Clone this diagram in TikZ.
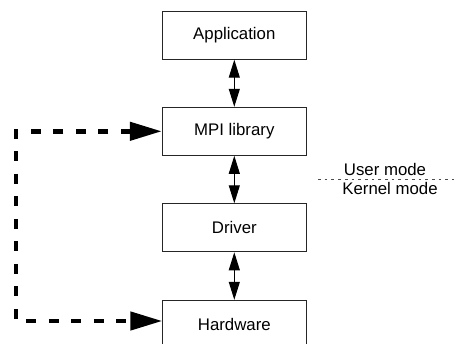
\documentclass[tikz,border=0pt]{standalone}
\usepackage{fontspec}
\setmainfont{Liberation Sans}
\usetikzlibrary{arrows.meta}
\begin{document}
\begin{tikzpicture}[x=1pt,y=-1pt,
  box/.style={draw=black!85, line width=1pt, minimum width=144pt, minimum height=48pt, inner sep=0pt, font=\fontsize{16.8}{20}\selectfont},
  lbl/.style={inner sep=0pt, font=\fontsize{16.8}{20}\selectfont},
  dblarrow/.style={line width=1pt, {Triangle[length=18pt,width=11pt]}-{Triangle[length=18pt,width=11pt]}},
  dasharrow/.style={line width=4.5pt, dash pattern=on 10pt off 12.5pt, miter limit=10, {Triangle[length=32pt,width=18pt]}-{Triangle[length=32pt,width=18pt]}},
  modeline/.style={line width=0.6pt, black!70, dash pattern=on 2.7pt off 4pt}]
\useasboundingbox (0,0) rectangle (454,344);
\node[box] (app) at (234.3,35.2) {Application};
\node[box] (mpi) at (234.3,131.3) {MPI library};
\node[box] (drv) at (234.3,227.8) {Driver};
\node[box] (hw) at (234.3,324.3) {Hardware};
\draw[dblarrow] (app.south) -- (mpi.north);
\draw[dblarrow] (mpi.south) -- (drv.north);
\draw[dblarrow] (drv.south) -- (hw.north);
\coordinate (hwin) at (162.3,321);
\coordinate (c1) at (16,131.3);
\coordinate (c2) at (16,321);
\draw[dasharrow] (mpi.west) -- (c1) -- (c2) -- (hwin);
\coordinate (ml) at (318,179.5);
\coordinate (mr) at (454,179.5);
\draw[modeline] (ml) -- (mr);
\node[lbl, anchor=base] (um) at (385,175.7) {User mode};
\node[lbl, anchor=base] (km) at (390,195) {Kernel mode};
\end{tikzpicture}
\end{document}
